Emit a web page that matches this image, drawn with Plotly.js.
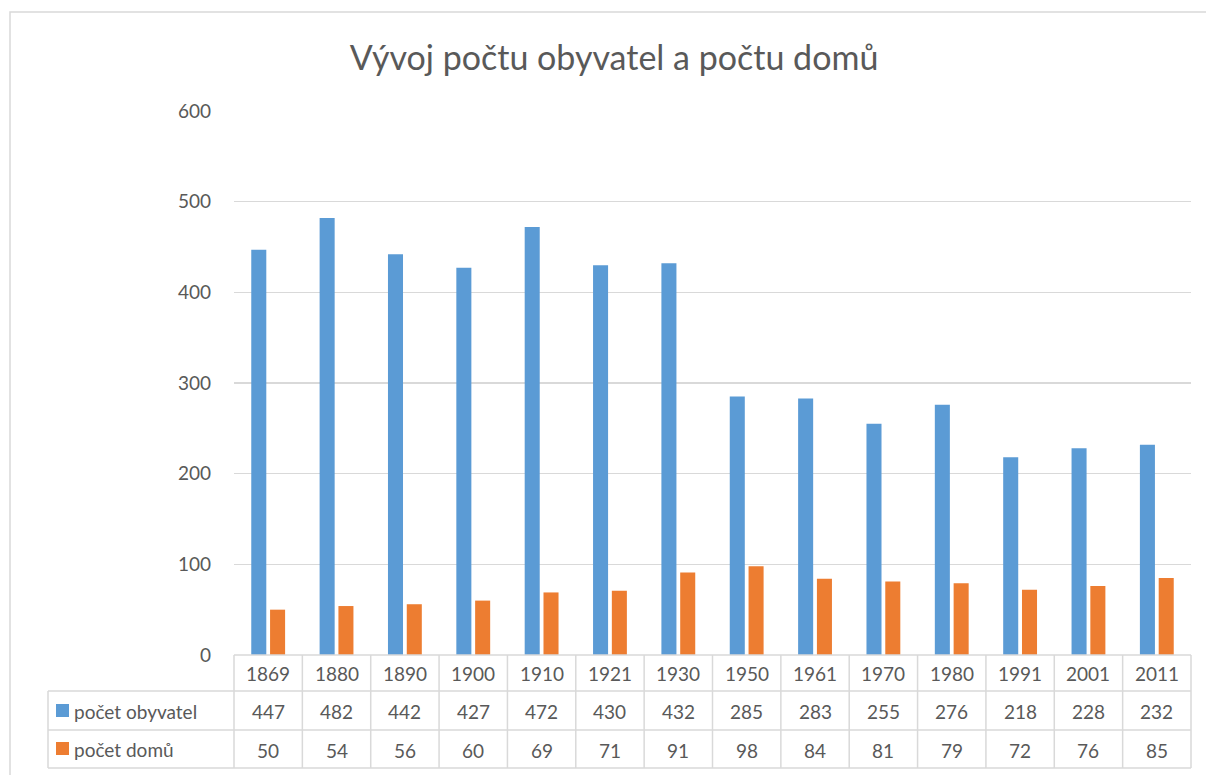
<!DOCTYPE html>
<html>
<head>
<meta charset="utf-8">
<script src="https://cdn.plot.ly/plotly-3.0.1.min.js"></script>
<style>html,body{margin:0;padding:0;background:#fff;}</style>
</head>
<body>
<div id="chart" style="width:1206px;height:775px;"></div>
<script>
const years = ['1869','1880','1890','1900','1910','1921','1930','1950','1961','1970','1980','1991','2001','2011'];
const obyvatel = [447,482,442,427,472,430,432,285,283,255,276,218,228,232];
const domu = [50,54,56,60,69,71,91,98,84,81,79,72,76,85];
const seriesNames = ['počet obyvatel','počet domů'];
const colors = ['#5b9bd5','#ed7d31'];

const W = 1206, H = 775;
const L = 234, R = 1191, T = 111, B = 655;
const px = X => (X - L) / (R - L);
const py = Y => (B - Y) / (B - T);
const font = 'Lato, "Open Sans", sans-serif';
const txt = '#595959';
const grid = '#d9d9d9';

const traces = [
  {type:'bar', x: years, y: obyvatel, name: seriesNames[0], marker:{color:colors[0]}, hoverinfo:'x+y'},
  {type:'bar', x: years, y: domu, name: seriesNames[1], marker:{color:colors[1]}, hoverinfo:'x+y'}
];

const shapes = [];
const annotations = [];
const line = {color: grid, width: 1.5};
// outer chart border
shapes.push({type:'rect', xref:'paper', yref:'paper', x0:px(10), x1:px(1300), y0:py(12), y1:py(900), line:{color:grid, width:1.5}, fillcolor:'rgba(0,0,0,0)', layer:'below'});
// table horizontal lines
const rowY = [655, 691, 730, 768];
rowY.forEach((Y, i) => {
  shapes.push({type:'line', xref:'paper', yref:'paper', x0: i === 0 ? px(L) : px(48), x1: 1, y0: py(Y), y1: py(Y), line});
});
// vertical lines
shapes.push({type:'line', xref:'paper', yref:'paper', x0:px(48), x1:px(48), y0:py(691), y1:py(768), line});
for (let i = 0; i <= years.length; i++) {
  const xp = i / years.length;
  shapes.push({type:'line', xref:'paper', yref:'paper', x0:xp, x1:xp, y0:py(655), y1:py(768), line});
}
// legend swatches
[[704,717],[742,755]].forEach((r, k) => {
  shapes.push({type:'rect', xref:'paper', yref:'paper', x0:px(56), x1:px(69), y0:py(r[1]), y1:py(r[0]), fillcolor:colors[k], line:{width:0}});
  annotations.push({xref:'paper', yref:'paper', x:px(72), y:py(k === 0 ? 711 : 749), xanchor:'left', yanchor:'middle', text:seriesNames[k], showarrow:false, font:{family:font, size:19, color:txt}});
});
// table text (x positions = category index on the category axis)
const rows = [years, obyvatel, domu];
const rowCenters = [673, 711, 750];
rows.forEach((vals, r) => {
  vals.forEach((v, i) => {
    annotations.push({xref:'x', yref:'paper', x: i, y: py(rowCenters[r]), xanchor:'center', yanchor:'middle', text:String(v), showarrow:false, font:{family:font, size:19, color:txt}});
  });
});

const layout = {
  width: W, height: H,
  margin: {l: L, r: W - R, t: T, b: H - B, pad: 0},
  paper_bgcolor: '#fff', plot_bgcolor: '#fff',
  title: {text: 'Vývoj počtu obyvatel a počtu domů', x: 614 / W, xanchor: 'center', y: 1 - 58 / H, yanchor: 'middle', font: {family: font, size: 34, color: txt}},
  showlegend: false,
  barmode: 'group', bargap: 0.45, bargroupgap: 0.2,
  xaxis: {type:'category', range:[-0.5, years.length - 0.5], showticklabels:false, showgrid:false, zeroline:false, showline:false, ticks:''},
  yaxis: {range:[0, 600], dtick:100, showgrid:true, gridcolor:grid, gridwidth:1.2, zeroline:false, showline:false, ticks:'', ticklabelstandoff: 22, tickfont:{family:font, size:19, color:txt}},
  shapes, annotations
};
Plotly.newPlot('chart', traces, layout, {displayModeBar:false, staticPlot:true});
</script>
</body>
</html>
